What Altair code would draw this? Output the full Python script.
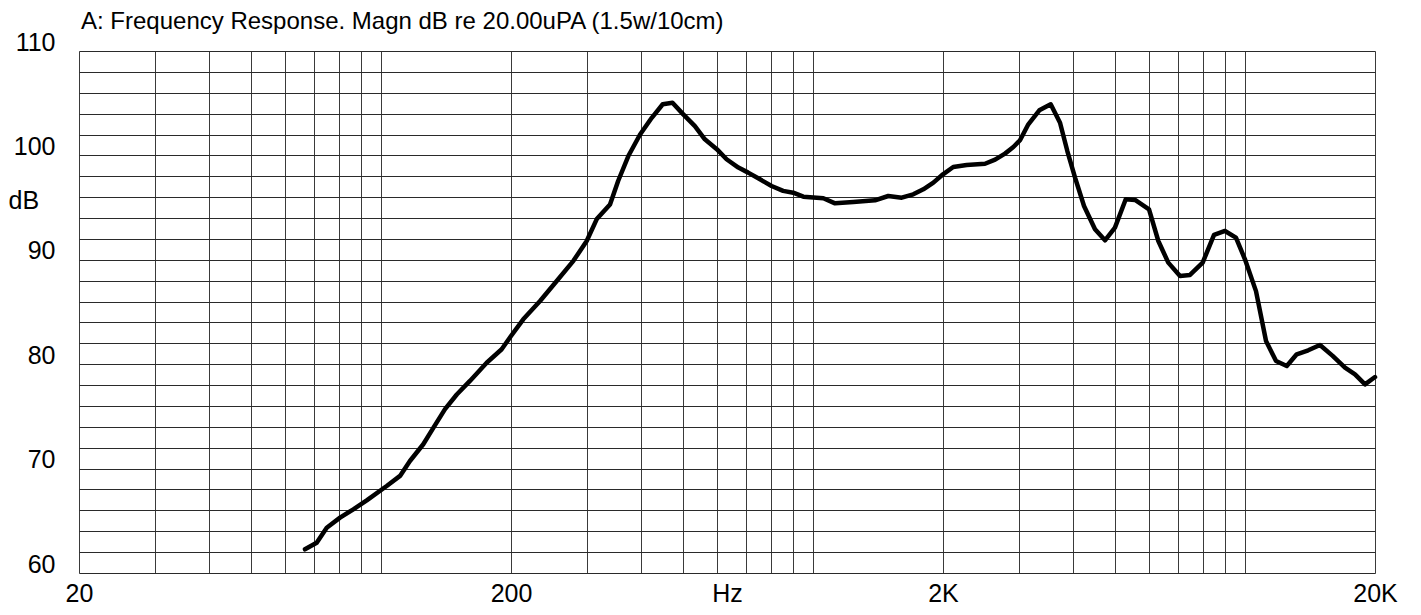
import altair as alt
import pandas as pd

# Frequency response curve (Hz, dB)
freq_hz = [66.7, 71, 74.9, 80.4, 86.3, 92.7, 103.1, 110.7, 116.7, 125.3, 132.2, 140.7,
           149.8, 160.7, 175.7, 190.3, 200, 213.5, 233.5, 255.2, 278.9, 299.4, 315.9,
           339, 354, 373.8, 397.9, 423.5, 449, 473, 501, 533, 562, 599, 631, 672, 708,
           754, 802, 853, 900, 950, 1057, 1125, 1240, 1392, 1494, 1605, 1707, 1801,
           1900, 2000, 2112, 2269, 2502, 2640, 2783, 2910, 3015, 3152, 3342, 3551,
           3732, 3880, 4043, 4241, 4497, 4743, 5001, 5297, 5566, 5997, 6302, 6645,
           7074, 7461, 7982, 8480, 8990, 9531, 10000, 10606, 11189, 11802, 12496,
           13177, 14013, 14917, 15960, 17046, 17980, 18963, 20000]
level_db = [62.27, 62.9, 64.34, 65.3, 66.1, 66.96, 68.33, 69.3, 70.73, 72.33, 73.9, 75.7,
            77.1, 78.4, 80.14, 81.43, 82.7, 84.3, 86.05, 87.97, 89.9, 91.8, 93.9,
            95.3, 97.55, 99.94, 102.0, 103.6, 104.9, 105.05, 103.93, 102.8, 101.54,
            100.6, 99.63, 98.83, 98.35, 97.71, 97.07, 96.6, 96.43, 96.05, 95.9, 95.41,
            95.54, 95.7, 96.11, 95.95, 96.27, 96.75, 97.39, 98.19, 98.89, 99.08, 99.2,
            99.59, 100.17, 100.8, 101.45, 102.98, 104.32, 104.9, 103.13, 100.42, 97.87,
            95.15, 92.92, 91.87, 93.08, 95.8, 95.73, 94.84, 91.8, 89.73, 88.45, 88.55,
            89.73, 92.38, 92.76, 92.12, 90.05, 87.0, 82.22, 80.3, 79.83, 80.95, 81.33,
            81.84, 80.8, 79.67, 79.03, 78.07, 78.77]

# Axis tick values
x_grid = [20, 30, 40, 50, 60, 70, 80, 90, 100, 200, 300, 400, 500, 600, 700, 800, 900,
          1000, 2000, 3000, 4000, 5000, 6000, 7000, 8000, 9000, 10000, 20000]
x_label_vals = [20, 200, 632.456, 2000, 20000]
x_label_txt = ["20", "200", "Hz", "2K", "20K"]
y_grid = list(range(60, 111, 2))

df = pd.DataFrame({"f": freq_hz, "db": level_db})

FONT = "Liberation Sans"

label_expr = " : ".join(
    f"abs(datum.value - {v}) < 0.01 ? '{t}'" for v, t in zip(x_label_vals, x_label_txt)
) + " : ''"

x_axis = alt.Axis(
    values=x_grid + [x_label_vals[2]],
    labelExpr=label_expr,
    grid=True,
    gridColor="#3a3a3a",
    gridWidth=1,
    gridOpacity={"condition": {"test": "datum.value > 630 && datum.value < 635", "value": 0}, "value": 1},
    ticks=False,
    domain=False,
    labelFlush=False,
    labelOverlap=False,
    labelFont=FONT,
    labelFontSize=25,
    labelColor="#000",
    labelPadding=8,
    title=None,
)

y_axis = alt.Axis(
    values=y_grid,
    labelExpr="datum.value % 10 == 0 ? datum.value : ''",
    grid=True,
    gridColor="#2a2a2a",
    gridWidth=1,
    ticks=False,
    domain=False,
    labelFont=FONT,
    labelFontSize=25,
    labelColor="#000",
    labelPadding=24,
    labelOffset=-9,
    labelOverlap=False,
    labelFlush=False,
    title="dB",
    titleAngle=0,
    titleFont=FONT,
    titleFontSize=25,
    titleFontWeight="normal",
    titleColor="#000",
    titleAlign="left",
    titleBaseline="middle",
    titleX=-71,
    titleY=149,
)

chart = alt.Chart(df).mark_line(color="#000", strokeWidth=4.5, strokeJoin="round", strokeCap="round").encode(
    x=alt.X("f:Q", scale=alt.Scale(type="log", domain=[20, 20000], nice=False), axis=x_axis),
    y=alt.Y("db:Q", scale=alt.Scale(domain=[60, 110], nice=False, zero=False), axis=y_axis),
).properties(
    width=1296,
    height=522,
    title=alt.TitleParams(
        "A: Frequency Response. Magn dB re 20.00uPA (1.5w/10cm)",
        anchor="start",
        frame="group",
        font=FONT,
        fontSize=24,
        fontWeight="normal",
        color="#000",
        dx=2,
        dy=18,
        offset=14,
    ),
    padding={"left": 71, "top": 43, "right": 38, "bottom": 40},
    autosize=alt.AutoSizeParams(type="none"),
).configure_view(
    stroke="#000",
    strokeWidth=1,
).configure(background="white")

chart.save("out.html", embed_options={"renderer": "svg", "actions": False})
